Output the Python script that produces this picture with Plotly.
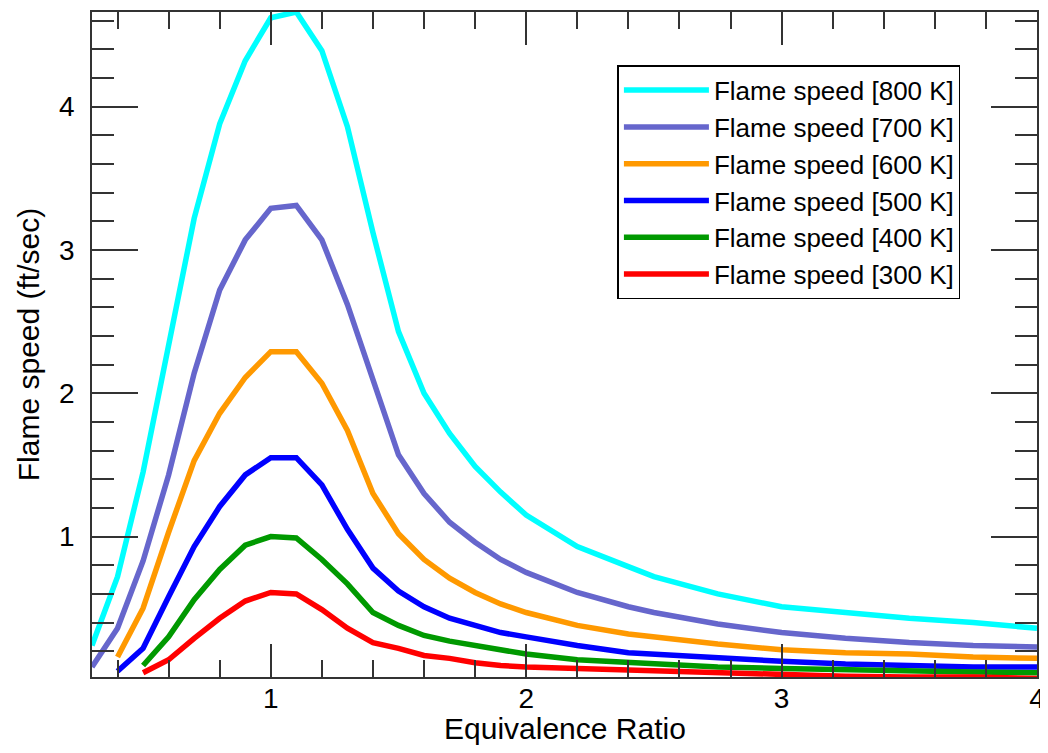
import plotly.graph_objects as go

# equivalence ratio grid
phi = [0.3, 0.4, 0.5, 0.6, 0.7, 0.8, 0.9, 1.0, 1.1, 1.2, 1.3, 1.4, 1.5, 1.6, 1.7,
       1.8, 1.9, 2.0, 2.2, 2.4, 2.5, 2.75, 3.0, 3.25, 3.5, 3.75, 4.0]

# flame speed (ft/sec) for each initial temperature
s800 = [0.24, 0.72, 1.45, 2.35, 3.22, 3.88, 4.32, 4.62, 4.66, 4.39, 3.86, 3.12, 2.43, 2.00,
        1.72, 1.49, 1.31, 1.15, 0.93, 0.79, 0.72, 0.60, 0.51, 0.47, 0.43, 0.40, 0.36]
s700 = [0.09, 0.36, 0.83, 1.43, 2.14, 2.72, 3.07, 3.29, 3.31, 3.07, 2.62, 2.08, 1.57, 1.30,
        1.10, 0.96, 0.84, 0.75, 0.61, 0.51, 0.47, 0.39, 0.33, 0.29, 0.26, 0.24, 0.23]
s600 = [None, 0.16, 0.50, 1.03, 1.53, 1.86, 2.11, 2.29, 2.29, 2.07, 1.74, 1.30, 1.02, 0.84,
        0.71, 0.61, 0.53, 0.47, 0.38, 0.32, 0.30, 0.25, 0.21, 0.19, 0.18, 0.16, 0.15]
s500 = [None, 0.06, 0.22, 0.58, 0.93, 1.21, 1.43, 1.55, 1.55, 1.36, 1.05, 0.78, 0.62, 0.51,
        0.43, 0.38, 0.33, 0.30, 0.24, 0.19, 0.18, 0.15, 0.13, 0.11, 0.10, 0.09, 0.09]
s400 = [None, None, 0.10, 0.30, 0.56, 0.77, 0.94, 1.00, 0.99, 0.84, 0.67, 0.47, 0.38, 0.31,
        0.27, 0.24, 0.21, 0.18, 0.14, 0.12, 0.11, 0.09, 0.08, 0.07, 0.06, 0.055, 0.05]
s300 = [None, None, 0.05, 0.14, 0.29, 0.43, 0.55, 0.61, 0.60, 0.49, 0.36, 0.26, 0.22, 0.17,
        0.15, 0.12, 0.10, 0.09, 0.08, 0.07, 0.06, 0.05, 0.04, 0.025, 0.02, 0.02, 0.01]

series = [
    ("Flame speed [800 K]", s800, "#00ffff"),
    ("Flame speed [700 K]", s700, "#6666cc"),
    ("Flame speed [600 K]", s600, "#ff9900"),
    ("Flame speed [500 K]", s500, "#0000ff"),
    ("Flame speed [400 K]", s400, "#009900"),
    ("Flame speed [300 K]", s300, "#ff0000"),
]

fig = go.Figure()
for name, vals, col in series:
    fig.add_trace(go.Scatter(x=phi, y=vals, name=name, mode="lines",
                             line=dict(color=col, width=5.5)))

font = "Liberation Sans, Arial, Helvetica, sans-serif"
axis_common = dict(
    showline=True, linecolor="#333", linewidth=1.5, mirror="allticks",
    ticks="inside", tickcolor="#333", tickwidth=1.5,
    showgrid=False, zeroline=False, automargin=False,
    tickfont=dict(family=font, size=28, color="black"),
)

fig.update_xaxes(
    range=[0.3, 4.0], tick0=0, dtick=1, ticklen=33, ticklabelstandoff=-4,
    minor=dict(dtick=0.2, ticks="inside", ticklen=17, tickcolor="#333", tickwidth=1.5),
    **axis_common,
)
fig.update_yaxes(
    range=[0.02, 4.66], tick0=0, dtick=1, ticklen=46, ticklabelstandoff=10,
    minor=dict(dtick=0.2, ticks="inside", ticklen=22, tickcolor="#333", tickwidth=1.5),
    title=dict(text="Flame speed (ft/sec)", font=dict(family=font, size=30, color="black"), standoff=11),
    **axis_common,
)

fig.add_annotation(text="Equivalence Ratio", xref="paper", yref="paper",
                   x=0.5, y=-0.078, xanchor="center", yanchor="middle", showarrow=False,
                   font=dict(family=font, size=30, color="black"))

# page body has an 8px margin, so the figure is sized/offset to compensate
fig.update_layout(
    width=1040, height=745,
    margin=dict(l=84, r=11, t=4, b=76),
    plot_bgcolor="white", paper_bgcolor="white",
    font=dict(family=font, color="black"),
    legend=dict(x=0.556, y=0.92, xanchor="left", yanchor="top",
                bordercolor="black", borderwidth=1.5, bgcolor="white",
                font=dict(family=font, size=26, color="black"),
                itemwidth=85, tracegroupgap=0),
)

fig.write_html("out.html")
